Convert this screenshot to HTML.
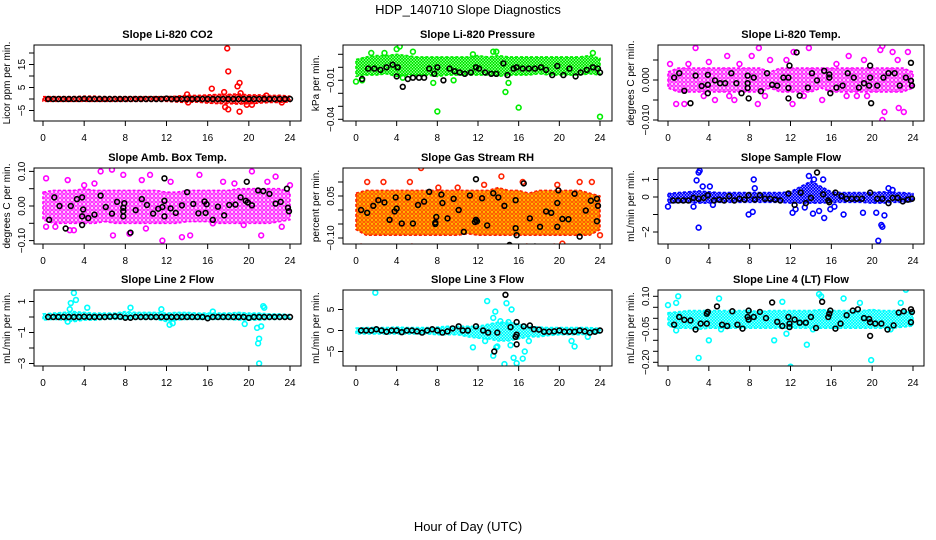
<!DOCTYPE html>
<html><head><meta charset="utf-8">
<style>
html,body{margin:0;padding:0;background:#fff;}
svg{display:block;font-family:"Liberation Sans",Arial,sans-serif;}
</style></head>
<body>
<svg id="chart" width="936" height="540" viewBox="0 0 936 540" xmlns="http://www.w3.org/2000/svg">
<text x="468" y="14" text-anchor="middle" font-size="13">HDP_140710  Slope Diagnostics</text>
<text x="468" y="531" text-anchor="middle" font-size="13">Hour of Day (UTC)</text>
</svg>
<script>
const xTicks = [0,4,8,12,16,20,24];
const hours = [0,1,2,3,4,5,6,7,8,9,10,11,12,13,14,15,16,17,18,19,20,21,22,23,24];

// Panel 1: CO2
const p1Lo = [-1,-1,-1,-1,-1,-1,-1,-1,-1,-1,-1,-1,-1,-1.3,-1.5,-1.3,-1.8,-2,-2,-2.2,-2,-1.8,-1.5,-1.5,-1.2];
const p1Hi = [1,1,1,1,1.2,1.2,1,1,1,1,1,1,1,1.2,1.6,1.5,1.8,2,2,2.2,1.8,1.8,1.5,1.6,1.2];
const p1OutX = [17.9,18,16.4,17.6,19.1,18.9,17.7,18,19.1,19.8,20.3,14.1,23.2,19.2,14,21.7];
const p1OutY = [22,12,4.5,3,7,5.5,-3.5,-4.5,-5.5,-2.5,-2.5,-1.5,-1.5,2.5,2,1.5];
const p1BlkX = [0.5,1,1.5,2,2.5,3,3.5,4,4.5,5,5.5,6,6.5,7,7.5,8,8.5,9,9.5,10,10.5,11,11.5,12,12.5,13,13.5,14,14.5,15,15.5,16,16.5,17,17.5,18,18.5,19,19.5,20,20.5,21,21.5,22,22.5,23,23.5,24];
const p1BlkY = [0,0,0,0,0,0,0,0.1,0,0,0,0,0,0,0,0,0,0,0,0,0,0,0,0.2,0,0,0,0,0,0,0,0,0,0,0,0,0,0,0,0,0,0,0,0,0,0,0,0];

// Panel 2: Pressure
const p2Lo = [-0.007,-0.006,-0.006,-0.005,-0.007,-0.006,-0.006,-0.006,-0.007,-0.006,-0.006,-0.006,-0.006,-0.006,-0.007,-0.006,-0.006,-0.006,-0.005,-0.006,-0.006,-0.006,-0.006,-0.005,-0.006];
const p2Hi = [0.006,0.008,0.009,0.009,0.01,0.009,0.008,0.008,0.008,0.008,0.008,0.008,0.009,0.008,0.009,0.008,0.008,0.008,0.008,0.008,0.008,0.008,0.008,0.009,0.007];
const p2OutX = [4.3,4,1.5,5.6,13.5,13.8,11.5,23.3,0,0.6,7.6,9.6,14.7,15,8,16,24,2.8,4.6];
const p2OutY = [0.016,0.014,0.011,0.012,0.012,0.012,0.01,0.011,-0.011,-0.01,-0.012,-0.01,-0.019,-0.012,-0.034,-0.031,-0.038,0.011,-0.008];
const p2BlkX = [0.6,1.2,1.8,2.4,3,3.6,4,4.1,4.6,5.1,5.6,6.2,6.7,7.2,7.7,8,8.6,9.2,9.7,10.2,10.7,11.3,11.8,12.1,12.7,13.3,13.8,14.5,14.9,15.5,15.8,16.4,17,17.6,18.2,18.7,19.3,19.8,20.4,21,21.6,22.1,22.7,23.3,23.8,24];
const p2BlkY = [-0.009,-0.001,-0.001,-0.002,0,0.002,-0.007,0,-0.015,-0.009,-0.008,-0.008,-0.008,-0.001,-0.005,0,-0.01,-0.001,-0.003,-0.004,-0.005,-0.004,0,-0.001,-0.004,-0.005,-0.005,0.003,-0.006,-0.001,0,-0.001,-0.001,-0.001,0,-0.002,-0.006,0.001,-0.006,-0.001,-0.007,-0.004,-0.002,0,-0.001,-0.004];

// Panel 3: Li-820 Temp
const p3Lo = [-0.002,-0.003,-0.003,-0.003,-0.003,-0.003,-0.003,-0.003,-0.003,-0.003,-0.002,-0.003,-0.003,-0.003,-0.003,-0.002,-0.003,-0.003,-0.003,-0.003,-0.003,-0.003,-0.003,-0.003,-0.002];
const p3Hi = [0.002,0.003,0.003,0.003,0.003,0.003,0.003,0.003,0.003,0.003,0.002,0.003,0.003,0.003,0.003,0.003,0.003,0.003,0.003,0.003,0.003,0.003,0.003,0.003,0.002];
const p3OutX = [2.7,8.9,13.8,12.3,21,20.8,22,23.5,0.2,5.8,8.2,11.6,17.7,10,19.2,0.8,1.6,6.5,8.8,12.2,15.1,21.2,21,22.6,23.1,19.5,4.6,17.5,3.5,13.3,2,7,9.5,16.5,18.5,22.5,4,6];
const p3OutY = [0.008,0.008,0.008,0.007,0.0085,0.0075,0.007,0.007,0.004,0.006,0.006,0.005,0.006,0.005,0.005,-0.006,-0.006,-0.005,-0.006,-0.006,-0.005,-0.008,-0.010,-0.007,-0.008,-0.004,-0.005,-0.004,-0.004,-0.004,0.004,0.004,-0.004,0.004,-0.004,0.005,0.0045,-0.004];
const p3BlkX = [0.6,1.1,1.6,2.2,2.7,3.3,3.9,3.9,3.9,4.6,5.1,5.6,6.2,6.7,7.2,7.8,7.8,7.8,7.9,8.4,9.1,9.7,10.2,10.7,11.3,11.8,11.8,11.9,11.8,12.6,12.9,13.7,14.1,14.6,15.3,15.8,15.8,15.9,16.5,17.1,17.6,18.2,18.7,19.2,19.8,19.8,19.9,19.7,20.5,21.1,21.6,22.2,22.7,23.3,23.8,23.8,23.9];
const p3BlkY = [0.0006,0.0017,-0.0027,-0.0058,0.0011,-0.0015,-0.0012,0.0013,-0.0033,-0.0001,-0.0008,-0.0008,0.0017,-0.0008,-0.0033,0.0011,-0.0008,-0.002,-0.0046,0.0006,-0.0028,0.0017,-0.0012,-0.0014,0.0006,0.0006,-0.002,0.0036,-0.0046,0.0069,-0.0039,-0.0019,0.0017,-0.0001,0.0023,0.0014,0.0006,-0.0033,-0.0019,-0.0014,0.0017,0.0006,-0.0019,-0.0008,0.0036,0.0006,-0.0058,-0.0014,-0.0014,0.0006,0.0017,0.0017,-0.0014,0.0006,0.0043,-0.0002,-0.0014];

// Panel 4: Amb Box Temp
const p4Lo = [-0.04,-0.05,-0.05,-0.05,-0.05,-0.05,-0.045,-0.05,-0.05,-0.05,-0.05,-0.05,-0.05,-0.05,-0.045,-0.045,-0.045,-0.05,-0.05,-0.05,-0.05,-0.05,-0.05,-0.045,-0.04];
const p4Hi = [0.04,0.045,0.045,0.045,0.05,0.045,0.045,0.045,0.045,0.045,0.045,0.045,0.04,0.04,0.045,0.045,0.045,0.045,0.045,0.05,0.05,0.05,0.05,0.05,0.04];
const p4OutX = [0.3,2.4,5.6,6.7,7.8,9.6,10.4,15.2,20.3,22.6,24,11.6,8.4,6.8,13.5,14.3,21.2,0.3,2.6,16.5,19.5,23.2,4,12.4,18.6,1.2,3,5,10,17.5,21.8];
const p4OutY = [0.08,0.075,0.1,0.105,0.09,0.075,0.09,0.09,0.1,0.085,0.06,-0.1,-0.08,-0.085,-0.09,-0.085,-0.085,-0.06,-0.07,-0.05,-0.055,-0.06,0.06,0.07,0.065,-0.06,-0.07,0.065,-0.065,0.07,0.07];
const p4BlkX = [0.6,1.1,1.6,2.2,2.7,3.3,3.8,3.9,3.8,3.8,4.4,5,5.6,6.1,6.7,7.2,7.8,7.8,7.8,7.9,8.5,9,9.6,10.1,10.7,11.2,11.6,11.8,11.8,11.8,12.4,12.9,13.5,14,14.6,15.1,15.7,15.8,15.9,16.5,17,17.6,18.1,18.7,19.2,19.8,19.7,19.9,20.3,20.9,21.4,22,22.6,23.1,23.7,23.8,23.9];
const p4BlkY = [-0.04,0.025,0,-0.065,0,0.02,0.025,-0.01,-0.055,-0.03,-0.035,-0.025,0.03,-0.003,-0.022,0.012,-0.005,-0.015,-0.03,0.008,-0.077,-0.012,0.02,0.003,-0.022,-0.008,-0.003,0.015,-0.03,0.08,-0.007,-0.02,0.002,0.04,0.006,-0.021,0.013,-0.02,0.005,-0.04,-0.002,-0.027,0.003,0.004,0.025,0.07,0.015,0.01,0.002,0.045,0.043,0.035,0.007,0.012,0.05,-0.005,-0.015];

// Panel 5: Gas Stream RH
const p5Lo = [-0.07,-0.09,-0.09,-0.09,-0.09,-0.09,-0.09,-0.09,-0.09,-0.09,-0.09,-0.085,-0.09,-0.09,-0.09,-0.09,-0.09,-0.09,-0.09,-0.09,-0.09,-0.09,-0.09,-0.09,-0.07];
const p5Hi = [0.06,0.07,0.07,0.07,0.07,0.07,0.07,0.07,0.07,0.07,0.07,0.07,0.07,0.07,0.08,0.07,0.07,0.06,0.07,0.07,0.07,0.07,0.07,0.06,0.05];
const p5OutX = [6.4,6.7,12.1,14.3,14.2,1.1,2.7,5.3,10,16.4,19.8,22,23.2,0.5,1.7,5.5,16.8,19.5,20.3,24,12.6,8.1];
const p5OutY = [0.15,-0.15,-0.15,0.12,-0.14,0.1,0.1,0.1,0.08,0.1,0.09,0.1,0.1,-0.13,-0.14,-0.13,-0.13,-0.13,-0.12,-0.09,0.09,0.08];
const p5BlkX = [0.5,1.1,1.7,2.2,2.8,3.3,3.8,3.9,4,4.5,5.1,5.6,6.1,6.7,7.2,7.8,7.8,7.9,8.4,8.5,9,9.6,10.1,10.6,11.2,11.7,11.8,11.9,11.8,12.4,12.9,13.5,14,14.6,15.1,15.7,15.7,15.8,16.5,17.1,17.6,18.1,18.7,19.2,19.8,19.8,19.9,20.3,20.9,21.5,22,22.6,23.1,23.7,23.7,23.8];
const p5BlkY = [0,-0.01,0.015,0.035,0.027,-0.035,-0.005,0.045,0.005,-0.048,0.045,-0.048,0.018,0.03,0.065,-0.05,-0.045,-0.025,0.055,0.025,-0.03,0.04,0,-0.078,0.052,-0.043,-0.035,-0.04,0.11,0.042,-0.055,0.06,0.045,0.015,-0.125,0.035,-0.065,-0.09,0.095,-0.03,-0.13,-0.06,-0.005,-0.01,-0.06,0.025,0.07,-0.032,-0.033,0.058,-0.095,-0.002,0.033,0.04,-0.04,0.015];

// Panel 6: Sample Flow
const p6Lo = [-0.35,-0.3,-0.3,-0.35,-0.35,-0.3,-0.3,-0.3,-0.3,-0.3,-0.3,-0.3,-0.35,-0.35,-0.35,-0.35,-0.3,-0.3,-0.3,-0.3,-0.35,-0.35,-0.3,-0.3,-0.25];
const p6Hi = [0.2,0.25,0.3,0.35,0.3,0.25,0.25,0.25,0.25,0.25,0.25,0.25,0.3,0.6,0.9,0.6,0.3,0.25,0.25,0.25,0.25,0.3,0.25,0.25,0.2];
const p6OutX = [3.1,3,2.8,3.4,4.1,8.4,8.5,13.8,14.3,15.2,3,0,7.9,8.3,12.2,12.5,13.4,14.2,14.8,15.3,15.9,16.3,17.2,19.1,20.4,20.9,21,21.2,20.6,21.6,22,2.5,4.4];
const p6OutY = [1.5,1.4,0.95,0.6,0.6,1,0.5,1.2,1,1,-1.75,-0.55,-1,-0.85,-0.9,-0.7,-0.6,-0.95,-0.8,-1.2,-0.7,-0.55,-1,-0.9,-0.9,-1.6,-1.7,-1.05,-2.5,0.5,0.4,-0.55,-0.45];
const p6BlkX = [0.5,1,1.5,2,2.5,3,3.5,3.9,4.5,5,5.5,6,6.5,7,7.5,7.9,8.5,9,9.5,10,10.5,11,11.8,12.4,13,13.5,14,14.6,15.2,15.8,15.7,16.4,17,17.5,18,18.5,19,19.8,20.5,21,21.6,22,22.5,23,23.5,23.9];
const p6BlkY = [-0.2,-0.2,-0.2,-0.2,-0.05,-0.1,-0.05,0.1,-0.2,-0.15,-0.2,0.05,-0.2,-0.1,-0.15,0.1,-0.15,0.1,-0.1,-0.1,-0.15,-0.2,0.2,-0.45,0.25,-0.35,-0.05,1.4,0.15,-0.3,-0.2,0.25,0.05,-0.1,-0.1,-0.1,-0.1,0.25,-0.1,-0.1,-0.35,-0.05,-0.05,-0.25,-0.15,-0.1];

// Panel 7: Line 2 Flow
const p7Lo = [-0.2,-0.15,-0.2,-0.3,-0.2,-0.2,-0.15,-0.15,-0.15,-0.15,-0.15,-0.15,-0.3,-0.2,-0.15,-0.15,-0.15,-0.15,-0.15,-0.2,-0.2,-0.2,-0.15,-0.15,-0.1];
const p7Hi = [0.2,0.25,0.3,0.35,0.3,0.25,0.25,0.25,0.35,0.3,0.3,0.3,0.25,0.3,0.3,0.25,0.25,0.25,0.25,0.3,0.25,0.25,0.2,0.2,0.15];
const p7OutX = [3,3.2,2.7,4.3,2.6,8.5,11.5,12.3,12.6,19.6,20.8,21.2,21,20.9,21,21.4,21.5,2.4,16.5];
const p7OutY = [1.55,1.1,0.9,0.6,0.5,0.6,0.5,-0.5,-0.4,-0.45,-0.7,-0.6,-1.4,-1.7,-3,0.7,0.6,-0.3,0.35];
const p7BlkX = [0.5,1,1.5,2,2.5,3,3.5,4,4.5,5,5.5,6,6.5,7,7.5,8,8.5,9,9.5,10,10.5,11,11.5,12,12.5,13,13.5,14,14.5,15,15.5,16,16.5,17,17.5,18,18.5,19,19.5,20,20.5,21,21.5,22,22.5,23,23.5,24];
const p7BlkY = [0,0,0,0,0,0,0,0.02,0,0,0,0,0.02,0.04,0.02,-0.05,-0.05,0,0,0,0,0,0,0,0,0,0,0,0,0,0,-0.08,0,0,0,0,0,0,0,-0.05,0,0,0,0,0,0,0,0];

// Panel 8: Line 3 Flow
const p8Lo = [-0.8,-0.8,-0.8,-0.8,-0.8,-0.8,-0.8,-0.8,-1,-1,-1,-1.5,-1.8,-2,-2.5,-2.5,-2,-1.5,-1.5,-1.2,-1,-1,-1,-0.8,-0.6];
const p8Hi = [0.6,0.7,0.7,0.7,0.8,0.7,0.7,0.7,0.8,1,1,1,1,1.5,2,2,1.5,1,0.8,0.7,0.7,0.7,0.7,0.7,0.5];
const p8OutX = [1.9,12.9,13.7,13.5,14.8,15.3,11.5,12.7,13.5,13.8,13.9,14.6,15.2,15.5,15.8,16.4,16.6,17,21.5,21.2,22.8,14.2,15];
const p8OutY = [9,7,4.5,3,6.5,5,-4,-2.5,-6,-4,-3.8,-8,-3.5,-6.5,-7.8,-6.7,-5,-2.5,-3.8,-2.5,-1.5,2.2,2];
const p8BlkX = [0.5,1,1.5,2,2.5,3,3.5,4,4.5,5,5.5,6,6.5,7,7.5,8,8.5,9,9.5,10.1,10.5,11,11.8,12.5,13,13.6,13.9,14.7,15.2,15.8,15.8,15.7,15.8,16.5,17.1,17.5,18,18.5,19,19.5,20,20.5,21,21.5,22,22.5,23,23.5,24];
const p8BlkY = [0,0,0,0.3,0,-0.3,0,0,-0.4,0,0,-0.2,-0.5,0,0.3,0,-0.5,-0.2,0.5,1,0,0,1,0,-0.5,-5,-0.5,8.5,0.8,2,-3.3,-1.5,-1,1,1.2,0.3,0.2,-0.3,-0.3,-0.2,0,-0.3,-0.3,-0.3,0,-0.2,-0.5,-0.3,0];

// Panel 9: Line 4 (LT) Flow
const p9Lo = [-0.035,-0.045,-0.045,-0.05,-0.045,-0.045,-0.045,-0.045,-0.045,-0.045,-0.045,-0.045,-0.045,-0.045,-0.045,-0.045,-0.045,-0.045,-0.045,-0.045,-0.045,-0.045,-0.045,-0.04,-0.035];
const p9Hi = [0.025,0.03,0.035,0.035,0.035,0.035,0.035,0.035,0.035,0.03,0.035,0.035,0.035,0.035,0.035,0.04,0.035,0.035,0.035,0.035,0.04,0.035,0.035,0.035,0.025];
const p9OutX = [0,1,0.8,4,5,3,10.4,11.2,11.6,12,13.6,14.8,15,17.2,18.8,19.9,21.8,23.3,22.8,0.8,5.2,14.2];
const p9OutY = [0.06,0.1,0.07,-0.1,0.09,-0.18,-0.1,0.075,-0.07,-0.22,-0.12,0.11,0.1,0.09,0.07,-0.19,-0.05,0.13,0.07,-0.055,-0.05,-0.05];
const p9BlkX = [0.6,1.1,1.6,2.2,2.7,3.2,3.8,3.9,3.8,4.8,5.3,5.8,6.3,6.8,7.3,7.9,7.8,7.9,8.4,9,9.6,10.2,10.7,11.2,11.8,11.9,11.9,12.4,12.9,13.5,14,14.5,15.1,15.8,15.9,15.7,16.4,16.9,17.5,18.1,18.6,19.2,19.7,19.8,19.8,20.3,20.9,21.5,22.1,22.6,23.1,23.8,23.9,23.8];
const p9BlkY = [-0.029,0.006,-0.007,-0.01,-0.051,-0.024,0.021,0.029,-0.024,0.054,-0.029,-0.035,0.032,-0.029,-0.047,0.035,0.006,-0.006,0.006,0.029,0.001,0.072,-0.016,-0.035,0.006,-0.024,-0.04,-0.006,-0.02,-0.02,0.006,-0.044,0.075,0.021,0.035,0.006,-0.047,-0.024,0.014,0.035,0.041,0.001,-0.003,-0.018,-0.08,-0.024,-0.024,-0.051,-0.032,0.026,0.032,-0.018,0.029,0.041];

const panels = [
 {name:'co2', title:'Slope Li-820 CO2', ylab:'Licor ppm per min.', col:0,row:0, color:'#ff0000', bg:'#ffffff', step:3, sw:1.1,
  v0:0, p0:99, scale:2.3, ticks:[-5,0,5,10,15,20], tlab:['−5','','5','','15',''], lo:p1Lo,hi:p1Hi,ox:p1OutX,oy:p1OutY,bx:p1BlkX,by:p1BlkY},
 {name:'pressure', title:'Slope Li-820 Pressure', ylab:'kPa per min.', col:1,row:0, color:'#00ee00', bg:'#ffffff', step:3, sw:1.1,
  v0:0, p0:67.3, scale:1300, ticks:[0.01,0,-0.01,-0.02,-0.03,-0.04], tlab:['','','−0.01','','','−0.04'], lo:p2Lo,hi:p2Hi,ox:p2OutX,oy:p2OutY,bx:p2BlkX,by:p2BlkY},
 {name:'li820-temp', title:'Slope Li-820 Temp.', ylab:'degrees C per min.', col:2,row:0, color:'#ff00ff', bg:'#ffffff', step:4, sw:1.1,
  v0:0, p0:80, scale:4000, ticks:[0.005,0,-0.005,-0.01], tlab:['','0.000','','−0.010'], lo:p3Lo,hi:p3Hi,ox:p3OutX,oy:p3OutY,bx:p3BlkX,by:p3BlkY},
 {name:'amb-box-temp', title:'Slope Amb. Box Temp.', ylab:'degrees C per min.', col:0,row:1, color:'#ff00ff', bg:'#ffffff', step:4, sw:1.1,
  v0:0, p0:206, scale:346, ticks:[0.1,0.05,0,-0.05,-0.1], tlab:['0.10','','0.00','','−0.10'], lo:p4Lo,hi:p4Hi,ox:p4OutX,oy:p4OutY,bx:p4BlkX,by:p4BlkY},
 {name:'gas-stream-rh', title:'Slope Gas Stream RH', ylab:'percent per min.', col:1,row:1, color:'#ff2200', bg:'#ffcc00', step:4, sw:0.8,
  v0:0, p0:210, scale:280, ticks:[0.1,0.05,0,-0.05,-0.1], tlab:['','0.05','','','−0.10'], lo:p5Lo,hi:p5Hi,ox:p5OutX,oy:p5OutY,bx:p5BlkX,by:p5BlkY},
 {name:'sample-flow', title:'Slope Sample Flow', ylab:'mL/min per min.', col:2,row:1, color:'#0000ff', bg:'#ffffff', step:3, sw:1.1,
  v0:0, p0:197, scale:17.5, ticks:[1,0,-1,-2], tlab:['1','0','','−2'], lo:p6Lo,hi:p6Hi,ox:p6OutX,oy:p6OutY,bx:p6BlkX,by:p6BlkY},
 {name:'line2-flow', title:'Slope Line 2 Flow', ylab:'mL/min per min.', col:0,row:2, color:'#00ffff', bg:'#ffffff', step:3, sw:1.1,
  v0:0, p0:317, scale:15.5, ticks:[1,0,-1,-2,-3], tlab:['1','','−1','','−3'], lo:p7Lo,hi:p7Hi,ox:p7OutX,oy:p7OutY,bx:p7BlkX,by:p7BlkY},
 {name:'line3-flow', title:'Slope Line 3 Flow', ylab:'mL/min per min.', col:1,row:2, color:'#00ffff', bg:'#ffffff', step:3, sw:1.1,
  v0:0, p0:330.5, scale:4.2, ticks:[5,0,-5], tlab:['5','0','−5'], lo:p8Lo,hi:p8Hi,ox:p8OutX,oy:p8OutY,bx:p8BlkX,by:p8BlkY},
 {name:'line4-flow', title:'Slope Line 4 (LT) Flow', ylab:'mL/min per min.', col:2,row:2, color:'#00ffff', bg:'#ffffff', step:3, sw:1.1,
  v0:0, p0:318.3, scale:220, ticks:[0.1,0.05,0,-0.05,-0.1,-0.15,-0.2], tlab:['0.10','','','−0.05','','','−0.20'], lo:p9Lo,hi:p9Hi,ox:p9OutX,oy:p9OutY,bx:p9BlkX,by:p9BlkY}
];

const cols = [{l:34,r:301,x0:43,x24:290},{l:343,r:612,x0:356,x24:600},{l:658,r:924,x0:668,x24:913}];
const rows = [{t:45,b:121},{t:168,b:244},{t:290,b:366}];
const NS = 'http://www.w3.org/2000/svg';
const svg = document.getElementById('chart');
function mk(tag, attrs, parent){
  const e = document.createElementNS(NS, tag);
  for (const k in attrs) e.setAttribute(k, attrs[k]);
  (parent||svg).appendChild(e);
  return e;
}
const defs = mk('defs', {});

panels.forEach(p => {
  const C = cols[p.col], R = rows[p.row];
  const xs = h => C.x0 + (C.x24 - C.x0) * h / 24;
  const ys = v => p.p0 - (v - p.v0) * p.scale;
  const g = mk('g', {});
  
  
  const clipId = 'clip-' + p.name;
  const cp = mk('clipPath', {id: clipId}, g);
  mk('rect', {x:C.l, y:R.t, width:C.r-C.l, height:R.b-R.t}, cp);

  const patId = 'pat-' + p.name;
  const s = p.step;
  const pat = mk('pattern', {id:patId, width:s, height:s, patternUnits:'userSpaceOnUse'}, defs);
  mk('rect', {x:0, y:0, width:s, height:s, fill:p.bg}, pat);
  mk('circle', {cx:s/2, cy:s/2, r:s*0.33, fill:'none', stroke:p.color, 'stroke-width':p.sw}, pat);

  const t = mk('text', {x:(C.l+C.r)/2, y:R.t-7, 'text-anchor':'middle', 'font-size':11, 'font-weight':'bold'}, g);
  t.textContent = p.title;
  
  

  const yl = mk('text', {x:0, y:0, 'text-anchor':'middle', 'font-size':10, transform:`translate(${C.l-24},${(R.t+R.b)/2}) rotate(-90)`}, g);
  yl.textContent = p.ylab;
  
  

  const marks = mk('g', {'clip-path':`url(#${clipId})`}, g);
  
  
  let d = '';
  hours.forEach((h,i) => { d += (i?'L':'M') + xs(h).toFixed(1) + ',' + ys(p.hi[i]).toFixed(1); });
  for (let i = hours.length-1; i >= 0; i--) d += 'L' + xs(hours[i]).toFixed(1) + ',' + ys(p.lo[i]).toFixed(1);
  d += 'Z';
  const band = mk('path', {d:d, fill:`url(#${patId})`, stroke:p.color, 'stroke-width':1.6, 'stroke-dasharray':'3 2', 'stroke-linejoin':'round'}, marks);
  
  
  p.ox.forEach((h,i) => {
    const c = mk('circle', {cx:xs(h), cy:ys(p.oy[i]), r:2.4, fill:'none', stroke:p.color, 'stroke-width':1.6}, marks);
    
    
  });
  p.bx.forEach((h,i) => {
    const c = mk('circle', {cx:xs(h), cy:ys(p.by[i]), r:2.4, fill:'none', stroke:'#000', 'stroke-width':1.6}, marks);
    
    
  });

  const box = mk('rect', {x:C.l, y:R.t, width:C.r-C.l, height:R.b-R.t, fill:'none', stroke:'#000', 'stroke-width':1}, g);
  
  

  const xa = mk('g', {}, g);
  
  
  xTicks.forEach(v => {
    const x = xs(v);
    mk('line', {x1:x, x2:x, y1:R.b, y2:R.b+5, stroke:'#000'}, xa);
    const tl = mk('text', {x:x, y:R.b+20, 'text-anchor':'middle', 'font-size':10}, xa);
    tl.textContent = v;
    
    
  });
  const ya = mk('g', {}, g);
  
  
  p.ticks.forEach((v,i) => {
    const y = ys(v);
    mk('line', {x1:C.l-5, x2:C.l, y1:y, y2:y, stroke:'#000'}, ya);
    if (p.tlab[i]) {
      const tl = mk('text', {x:0, y:0, 'text-anchor':'middle', 'font-size':10, transform:`translate(${C.l-9},${y}) rotate(-90)`}, ya);
      tl.textContent = p.tlab[i];
      
      
    }
  });
});
</script>
</body></html>
